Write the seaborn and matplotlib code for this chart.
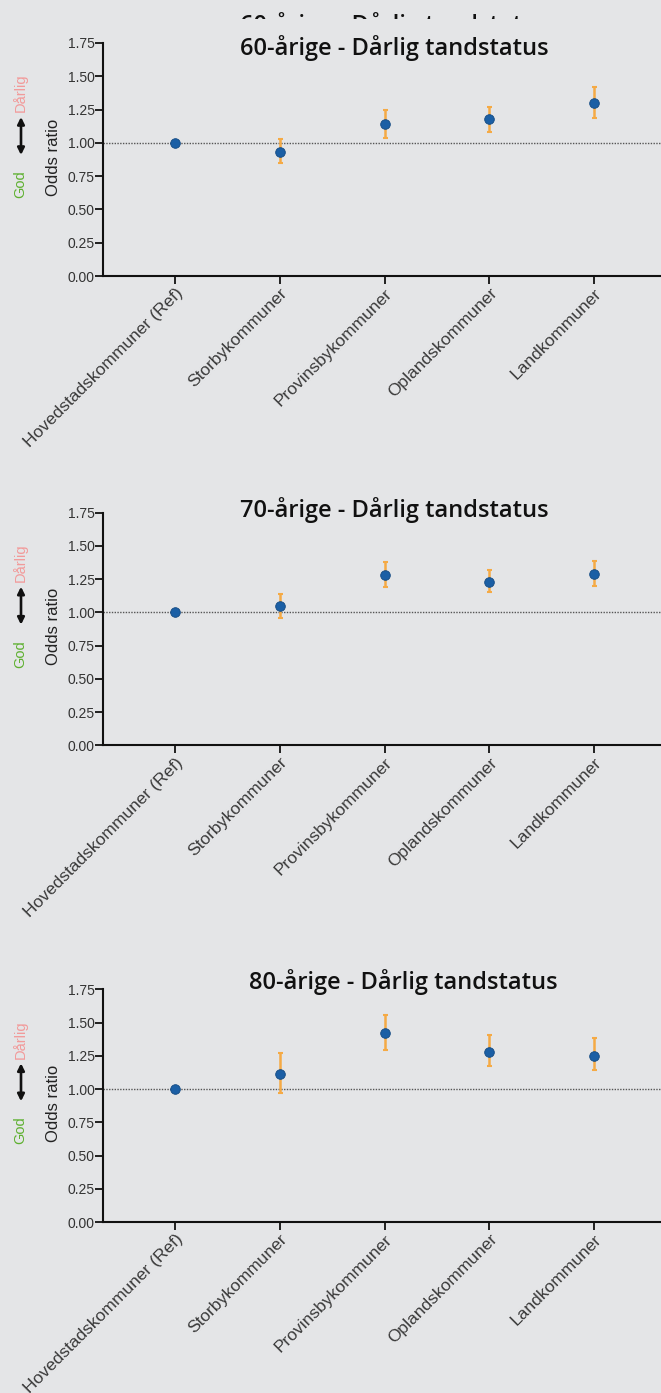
import matplotlib
matplotlib.use("Agg")
import matplotlib.pyplot as plt
from matplotlib.patches import Rectangle
import seaborn as sns
import pandas as pd

categories = ["Hovedstadskommuner (Ref)", "Storbykommuner", "Provinsbykommuner",
              "Oplandskommuner", "Landkommuner"]
titles = ["60-årige - Dårlig tandstatus", "70-årige - Dårlig tandstatus",
          "80-årige - Dårlig tandstatus"]

or60 = [1.00, 0.93, 1.14, 1.18, 1.30]
lo60 = [1.00, 0.85, 1.04, 1.08, 1.19]
hi60 = [1.00, 1.03, 1.25, 1.27, 1.42]

or70 = [1.00, 1.05, 1.28, 1.23, 1.29]
lo70 = [1.00, 0.96, 1.19, 1.15, 1.20]
hi70 = [1.00, 1.14, 1.38, 1.32, 1.39]

or80 = [1.00, 1.11, 1.42, 1.28, 1.25]
lo80 = [1.00, 0.97, 1.29, 1.17, 1.14]
hi80 = [1.00, 1.27, 1.56, 1.41, 1.38]

yticks = [0.00, 0.25, 0.50, 0.75, 1.00, 1.25, 1.50, 1.75]

BG = "#e4e5e7"
BLUE = "#1b5fa5"
ORANGE = "#f5aa45"
GREEN = "#5db02f"
PINK = "#f29a9a"

sns.set_theme(style="white")
plt.rcParams["font.family"] = ["Liberation Sans", "DejaVu Sans"]

W, H = 661, 1393
fig = plt.figure(figsize=(W / 100, H / 100), dpi=100, facecolor=BG)

# (axes top px, axes bottom px, title center x px, title baseline px)
panels = [
    (43.0, 276.0, 394.5, 55.0),
    (512.7, 745.3, 394.5, 517.0),
    (989.3, 1222.0, 403.0, 989.0),
]
data = [(or60, lo60, hi60), (or70, lo70, hi70), (or80, lo80, hi80)]

left_px = 103.0
x0_px, dx_px = 175.0, 104.75
xlim = (-(x0_px - left_px) / dx_px, (W - x0_px) / dx_px)

TFONT = dict(fontsize=17, fontfamily="Open Sans", fontweight="semibold", color="#111111")

for (top, bot, tcx, tbase), (orv, lov, hiv), title in zip(panels, data, titles):
    ax = fig.add_axes([left_px / W, 1 - bot / H, (W - left_px) / W, (bot - top) / H])
    ax.set_facecolor(BG)
    df = pd.DataFrame({"cat": categories, "or": orv, "lo": lov, "hi": hiv})
    ax.axhline(1.0, color="#555555", lw=1.0, ls=(0, (1, 1)), zorder=1)
    sub = df.iloc[1:]
    ax.errorbar(x=list(range(1, len(df))), y=sub["or"],
                yerr=[sub["or"] - sub["lo"], sub["hi"] - sub["or"]],
                fmt="none", ecolor=ORANGE, elinewidth=1.8, capsize=1.8,
                capthick=1.5, zorder=2)
    sns.scatterplot(data=df, x="cat", y="or", ax=ax, color=BLUE, s=48,
                    edgecolor="#134a82", linewidth=0.6, zorder=3)
    ax.set_xlim(*xlim)
    ax.set_ylim(0, 1.75)
    ax.set_yticks(yticks)
    ax.set_yticklabels([f"{v:.2f}" for v in yticks], fontsize=10, color="#333333")
    ax.set_xticks(range(len(categories)))
    ax.set_xticklabels(categories, rotation=45, ha="right", rotation_mode="anchor",
                       fontsize=12.5, color="#3a3a3a")
    ax.set_xlabel("")
    ax.set_ylabel("")
    for s in ["top", "right"]:
        ax.spines[s].set_visible(False)
    for s in ["left", "bottom"]:
        ax.spines[s].set_color("#111111")
        ax.spines[s].set_linewidth(1.5)
    ax.tick_params(axis="both", direction="out", length=5.5, width=1.3,
                   color="#111111", left=True, bottom=True)
    ax.tick_params(axis="y", pad=0.5)
    ax.tick_params(axis="x", pad=1.5)

    # y label and God/Dårlig annotation
    fig.text(53 / W, 1 - (top + 114) / H, "Odds ratio", rotation=90, ha="center",
             va="center", fontsize=12, color="#222222")
    fig.text(20 / W, 1 - (top + 50) / H, "Dårlig", rotation=90, ha="center",
             va="center", fontsize=10.5, color=PINK)
    fig.text(20 / W, 1 - (top + 141) / H, "God", rotation=90, ha="center",
             va="center", fontsize=10.5, color=GREEN)
    ax.annotate("", xy=(21 / W, 1 - (top + 74) / H), xytext=(21 / W, 1 - (top + 112) / H),
                xycoords="figure fraction", textcoords="figure fraction",
                arrowprops=dict(arrowstyle="<|-|>", color="#111111", lw=1.9,
                                mutation_scale=10, shrinkA=0, shrinkB=0))
    fig.text(tcx / W, 1 - tbase / H, title, ha="center", va="baseline", **TFONT)

# clipped duplicate title at the very top
t = fig.text(394.5 / W, 1 - 32 / H, titles[0], ha="center", va="baseline", **TFONT)
clip = Rectangle((0, 1 - 19.0 / H), 1, 19.0 / H, transform=fig.transFigure)
t.set_clip_path(clip)

fig.savefig("out.png", dpi=100, facecolor=BG)
